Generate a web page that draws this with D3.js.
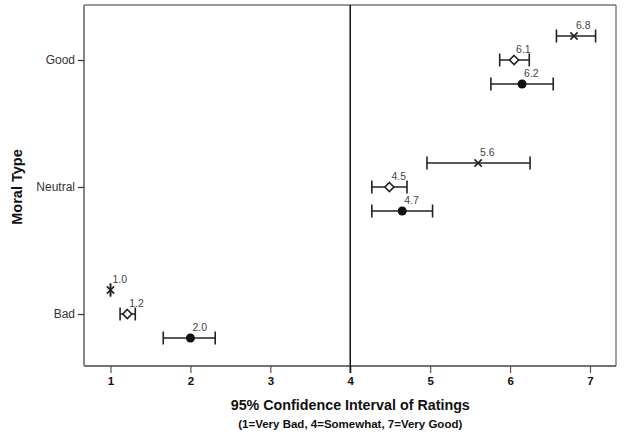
<!DOCTYPE html>
<html><head><meta charset="utf-8">
<script src="https://cdn.jsdelivr.net/npm/d3@7"></script>
<style>body{margin:0;background:#fff;} text{font-family:"Liberation Sans",Arial,sans-serif;}</style>
</head><body>
<svg id="chart" width="627" height="436"></svg>
<script>
const categories = ["Good", "Neutral", "Bad"];
const seriesNames = ["cross", "diamond", "dot"];
const means  = { cross: [6.8, 5.6, 1.0], diamond: [6.05, 4.49, 1.21], dot: [6.15, 4.65, 2.0] };
const lower  = { cross: [6.58, 4.96, 1.0], diamond: [5.87, 4.27, 1.12], dot: [5.76, 4.27, 1.66] };
const upper  = { cross: [7.07, 6.25, 1.0], diamond: [6.24, 4.71, 1.31], dot: [6.54, 5.03, 2.31] };
const labels = { cross: ["6.8", "5.6", "1.0"], diamond: ["6.1", "4.5", "1.2"], dot: ["6.2", "4.7", "2.0"] };
const xTicks = [1, 2, 3, 4, 5, 6, 7];

const svg = d3.select("#chart");
const L = 84, R = 616, T = 5, B = 366;
const x = d3.scaleLinear().domain([1, 7]).range([110.5, 590]);
const y = d3.scalePoint().domain(categories).range([60, 314]);
const off = d3.scalePoint().domain(seriesNames).range([-24, 24]);
const ink = "#222";

// frame
svg.append("line").attr("x1", L).attr("x2", R).attr("y1", T).attr("y2", T).attr("stroke", "#333").attr("stroke-width", 1.2);
svg.append("line").attr("x1", R).attr("x2", R).attr("y1", T).attr("y2", B).attr("stroke", "#666").attr("stroke-width", 1.2);
svg.append("line").attr("x1", L).attr("x2", R).attr("y1", B).attr("y2", B).attr("stroke", "#444").attr("stroke-width", 1.5);

// x axis
const xa = svg.append("g").attr("transform", `translate(0,${B})`)
  .call(d3.axisBottom(x).tickValues(xTicks).tickSize(7).tickPadding(4).tickFormat(d3.format("d")));
xa.select(".domain").remove();
xa.selectAll("line").attr("stroke", "#555").attr("stroke-width", 1.2);
xa.selectAll("text").attr("font-size", 11.5).attr("font-weight", "bold").attr("fill", "#111");

// y axis
const ya = svg.append("g").attr("transform", `translate(${L},0)`)
  .call(d3.axisLeft(y).tickSize(6).tickPadding(3));
ya.select(".domain").attr("d", `M0,${T}V${B}`).attr("stroke", "#888").attr("stroke-width", 2);
ya.selectAll(".tick line").attr("stroke", "#333").attr("stroke-width", 1.2);
ya.selectAll("text").attr("font-size", 12).attr("fill", "#333");

// reference line at 4
svg.append("line").attr("x1", x(4)).attr("x2", x(4)).attr("y1", T).attr("y2", B + 7).attr("stroke", "#111").attr("stroke-width", 1.5);

// titles
svg.append("text").attr("x", x(4)).attr("y", 410).attr("text-anchor", "middle")
  .attr("font-size", 14.3).attr("font-weight", "bold").attr("fill", "#111").text("95% Confidence Interval of Ratings");
svg.append("text").attr("x", x(4)).attr("y", 428).attr("text-anchor", "middle")
  .attr("font-size", 11.5).attr("font-weight", "bold").attr("fill", "#111").text("(1=Very Bad, 4=Somewhat, 7=Very Good)");
svg.append("text").attr("transform", `translate(22,${y("Neutral")}) rotate(-90)`).attr("text-anchor", "middle")
  .attr("font-size", 14.5).attr("font-weight", "bold").attr("fill", "#111").text("Moral Type");

// data
const g = svg.append("g");
seriesNames.forEach(s => {
  categories.forEach((c, i) => {
    const cy = y(c) + off(s);
    const x0 = x(lower[s][i]), x1 = x(upper[s][i]), cx = x(means[s][i]);
    g.append("line").attr("x1", x0).attr("x2", x1).attr("y1", cy).attr("y2", cy).attr("stroke", ink).attr("stroke-width", 1.5);
    [x0, x1].forEach(xx => g.append("line").attr("x1", xx).attr("x2", xx).attr("y1", cy - 6.5).attr("y2", cy + 6.5).attr("stroke", ink).attr("stroke-width", 1.6));
    if (s === "cross") {
      g.append("path").attr("d", d3.symbol(d3.symbolTimes, 36)()).attr("transform", `translate(${cx},${cy})`)
        .attr("fill", "none").attr("stroke", ink).attr("stroke-width", 1.6);
    } else if (s === "diamond") {
      g.append("path").attr("d", "M0,-4.5L4.5,0L0,4.5L-4.5,0Z").attr("transform", `translate(${cx},${cy})`)
        .attr("fill", "#fff").attr("stroke", ink).attr("stroke-width", 1.6);
    } else {
      g.append("circle").attr("cx", cx).attr("cy", cy).attr("r", 4.5).attr("fill", "#111");
    }
    g.append("text").attr("x", cx + 2).attr("y", cy - 7).attr("font-size", 10.5).attr("fill", "#444").text(labels[s][i]);
  });
});
</script>
</body></html>
